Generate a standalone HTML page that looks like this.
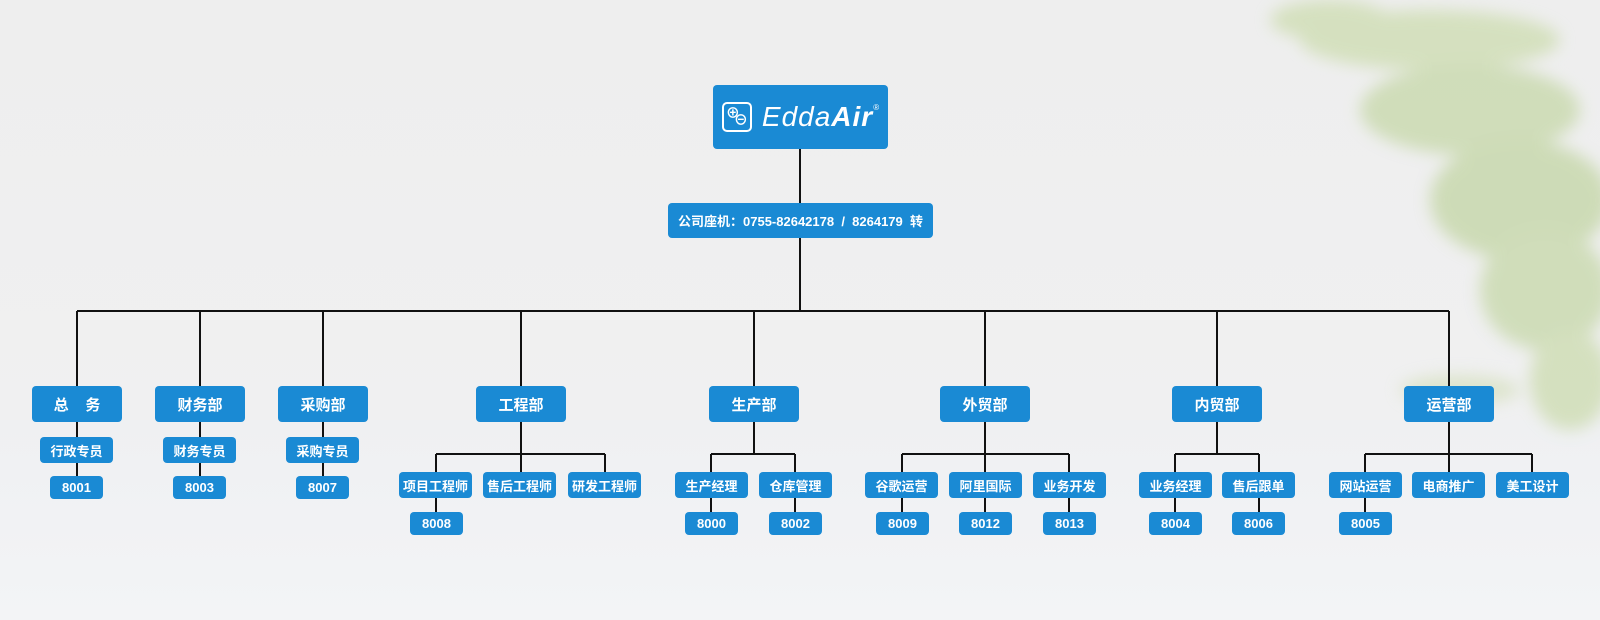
<!DOCTYPE html>
<html><head><meta charset="utf-8"><style>
body{margin:0;width:1600px;height:620px;overflow:hidden;position:relative;font-family:"Liberation Sans","Noto Sans CJK SC",sans-serif;background:linear-gradient(#eeeeee 0,#f0f0f1 420px,#eff0f2 420px,#f3f4f6 620px);}
.b{position:absolute;background:#1a8ad4;color:#fff;border-radius:4px;display:flex;align-items:center;justify-content:center;font-weight:bold;white-space:nowrap;box-sizing:border-box}
.d{height:36px;top:386px;width:90px;font-size:15px}
.s{height:26px;width:73px;font-size:13px}
.n{height:23px;width:53px;font-size:13px}
svg{position:absolute;left:0;top:0}
</style></head><body>
<svg width="1600" height="620">
<defs><filter id="bl"><feGaussianBlur stdDeviation="8"/></filter></defs>
<g filter="url(#bl)" opacity="0.6">
<ellipse cx="1330" cy="20" rx="60" ry="20" fill="#c5d8a0"/>
<ellipse cx="1430" cy="40" rx="130" ry="30" fill="#c5d8a0"/>
<ellipse cx="1470" cy="110" rx="110" ry="45" fill="#bcd297"/>
<ellipse cx="1520" cy="200" rx="90" ry="60" fill="#b8cf92"/>
<ellipse cx="1545" cy="290" rx="65" ry="60" fill="#bcd297"/>
<ellipse cx="1570" cy="380" rx="40" ry="50" fill="#c2d69e"/>
<ellipse cx="1460" cy="390" rx="60" ry="15" fill="#d0ddb5"/>
</g>
<g stroke="#111" stroke-width="2" fill="none">
<path d="M800 149V203M800 238V311M77 311H1449"/>
<path d="M77 311V386M200 311V386M323 311V386M521 311V386M754 311V386M985 311V386M1217 311V386M1449 311V386"/>
<path d="M77 422V476M200 422V476M323 422V476"/>
<path d="M521 422V454M436 454H605M436 454V472M521 454V472M605 454V472M436 498V512"/>
<path d="M754 422V454M711 454H795M711 454V512M795 454V512"/>
<path d="M985 422V454M902 454H1069M902 454V512M985 454V512M1069 454V512"/>
<path d="M1217 422V454M1175 454H1259M1175 454V512M1259 454V512"/>
<path d="M1449 422V454M1365 454H1532M1365 454V512M1449 454V472M1532 454V472"/>
</g>
</svg>
<div class="b" style="left:713px;top:85px;width:175px;height:64px;">
<div style="width:26px;height:26px;border:2px solid #fff;border-radius:5px;position:relative;margin-right:10px;font-size:14px;line-height:12px"><span style="position:absolute;left:2px;top:3px">⊕</span><span style="position:absolute;left:10px;top:10px">⊖</span></div>
<span style="font-style:italic;font-weight:normal;font-size:28px;letter-spacing:1px">Edda<b>Air</b></span><sup style="font-size:8px;font-weight:normal;margin-top:-20px">®</sup>
</div>
<div class="b" style="left:668px;top:203px;width:265px;height:35px;font-size:13px;">公司座机：0755-82642178 &nbsp;/ &nbsp;8264179 &nbsp;转</div>

<div class="b d" style="left:32px">总&nbsp;&nbsp;&nbsp;&nbsp;务</div>
<div class="b d" style="left:155px">财务部</div>
<div class="b d" style="left:278px">采购部</div>
<div class="b d" style="left:476px">工程部</div>
<div class="b d" style="left:709px">生产部</div>
<div class="b d" style="left:940px">外贸部</div>
<div class="b d" style="left:1172px">内贸部</div>
<div class="b d" style="left:1404px">运营部</div>

<div class="b s" style="left:40px;top:437px;width:73px">行政专员</div>
<div class="b s" style="left:163px;top:437px">财务专员</div>
<div class="b s" style="left:286px;top:437px">采购专员</div>
<div class="b n" style="left:50px;top:476px">8001</div>
<div class="b n" style="left:173px;top:476px">8003</div>
<div class="b n" style="left:296px;top:476px">8007</div>

<div class="b s" style="left:399px;top:472px">项目工程师</div>
<div class="b s" style="left:483px;top:472px">售后工程师</div>
<div class="b s" style="left:568px;top:472px">研发工程师</div>
<div class="b n" style="left:410px;top:512px">8008</div>

<div class="b s" style="left:675px;top:472px">生产经理</div>
<div class="b s" style="left:759px;top:472px">仓库管理</div>
<div class="b n" style="left:685px;top:512px">8000</div>
<div class="b n" style="left:769px;top:512px">8002</div>

<div class="b s" style="left:865px;top:472px">谷歌运营</div>
<div class="b s" style="left:949px;top:472px">阿里国际</div>
<div class="b s" style="left:1033px;top:472px">业务开发</div>
<div class="b n" style="left:876px;top:512px">8009</div>
<div class="b n" style="left:959px;top:512px">8012</div>
<div class="b n" style="left:1043px;top:512px">8013</div>

<div class="b s" style="left:1139px;top:472px">业务经理</div>
<div class="b s" style="left:1222px;top:472px">售后跟单</div>
<div class="b n" style="left:1149px;top:512px">8004</div>
<div class="b n" style="left:1232px;top:512px">8006</div>

<div class="b s" style="left:1329px;top:472px">网站运营</div>
<div class="b s" style="left:1412px;top:472px">电商推广</div>
<div class="b s" style="left:1496px;top:472px">美工设计</div>
<div class="b n" style="left:1339px;top:512px">8005</div>
</body></html>
